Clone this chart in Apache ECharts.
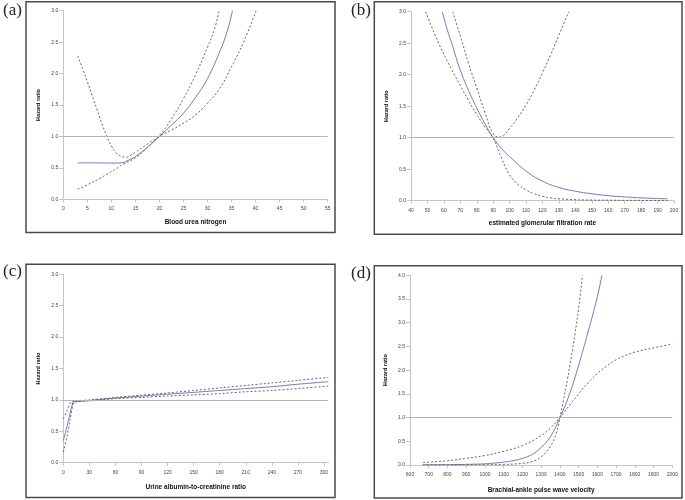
<!DOCTYPE html>
<html><head><meta charset="utf-8">
<script src="https://cdn.jsdelivr.net/npm/echarts@6/dist/echarts.min.js"></script>
<style>html,body{margin:0;padding:0;background:#fff}#c{width:685px;height:500px}</style>
</head><body><div id="c"></div>
<script>
// ---------- (a) Blood urea nitrogen ----------
const bunHrX = [3, 5, 8, 10, 12, 13.5, 15, 17.5, 20, 22.5, 25, 27.5, 30, 32.5, 34, 35.2];
const bunHrY = [0.58, 0.58, 0.578, 0.576, 0.58, 0.62, 0.68, 0.83, 1.0, 1.18, 1.37, 1.62, 1.92, 2.34, 2.65, 3.0];
const bunUpX = [3, 4, 5, 6, 7, 8, 9, 10, 11, 12, 13, 14, 15, 17.5, 20, 22.5, 25, 27.5, 30, 31.5, 32.4];
const bunUpY = [2.28, 2.08, 1.87, 1.65, 1.43, 1.21, 1.01, 0.85, 0.74, 0.685, 0.67, 0.70, 0.75, 0.88, 1.02, 1.28, 1.6, 1.98, 2.42, 2.72, 3.0];
const bunLoX = [3, 5, 7.5, 10, 12.5, 15, 17.5, 20, 22.5, 25, 27.5, 30, 32.5, 35, 37.5, 40.1];
const bunLoY = [0.16, 0.23, 0.33, 0.44, 0.56, 0.66, 0.82, 1.0, 1.10, 1.21, 1.34, 1.53, 1.76, 2.11, 2.5, 3.0];

// ---------- (b) estimated glomerular filtration rate ----------
const egfrHrX = [59, 62, 65, 70, 75, 80, 85, 90, 95, 100, 110, 120, 130, 140, 150, 160, 170, 180, 190, 196];
const egfrHrY = [3.0, 2.72, 2.48, 2.07, 1.75, 1.47, 1.22, 1.0, 0.83, 0.70, 0.47, 0.31, 0.21, 0.15, 0.11, 0.08, 0.06, 0.045, 0.035, 0.03];
const egfrLoX = [49, 53, 57, 61, 65, 70, 75, 80, 85, 90, 95, 100, 105, 110, 115, 120, 125, 130, 140, 150, 160, 170, 180, 196];
const egfrLoY = [3.0, 2.73, 2.49, 2.27, 2.07, 1.83, 1.59, 1.37, 1.17, 0.99, 0.68, 0.41, 0.26, 0.17, 0.11, 0.07, 0.045, 0.03, 0.016, 0.01, 0.008, 0.006, 0.005, 0.004];
const egfrUpX = [65.4, 68, 70, 75, 80, 85, 90, 94, 100, 105, 110, 115, 120, 125, 130, 136];
const egfrUpY = [3.0, 2.78, 2.62, 2.18, 1.79, 1.40, 1.06, 1.01, 1.15, 1.32, 1.52, 1.76, 2.03, 2.32, 2.63, 3.0];

// ---------- (c) Urine albumin-to-creatinine ratio ----------
const uacrHrX = [0, 5, 11, 15, 30, 60, 90, 120, 150, 180, 210, 240, 270, 305];
const uacrHrY = [0.35, 0.62, 0.96, 0.975, 0.99, 1.03, 1.06, 1.09, 1.12, 1.15, 1.18, 1.21, 1.25, 1.29];
const uacrUpX = [0, 4, 9, 15, 30, 60, 90, 120, 150, 180, 210, 240, 270, 305];
const uacrUpY = [0.7, 0.82, 0.97, 0.985, 1.0, 1.04, 1.075, 1.11, 1.15, 1.19, 1.23, 1.27, 1.31, 1.36];
const uacrLoX = [0, 4, 8, 12, 20, 30, 60, 90, 120, 150, 180, 210, 240, 270, 305];
const uacrLoY = [0.17, 0.4, 0.7, 0.96, 0.975, 0.985, 1.02, 1.04, 1.06, 1.08, 1.10, 1.13, 1.15, 1.18, 1.22];

// ---------- (d) Brachial-ankle pulse wave velocity ----------
const pwvHrX = [668, 750, 850, 950, 1000, 1050, 1100, 1150, 1200, 1250, 1300, 1350, 1400, 1450, 1500, 1550, 1600, 1624];
const pwvHrY = [0.005, 0.006, 0.01, 0.018, 0.025, 0.04, 0.06, 0.09, 0.14, 0.22, 0.37, 0.6, 1.0, 1.48, 2.1, 2.8, 3.55, 4.0];
const pwvAX = [670, 700, 800, 900, 1000, 1100, 1200, 1300, 1350, 1400, 1450, 1500, 1550, 1600, 1650, 1700, 1750, 1800, 1900, 2000];
const pwvAY = [0.05, 0.06, 0.09, 0.14, 0.2, 0.29, 0.41, 0.62, 0.78, 1.0, 1.25, 1.5, 1.73, 1.93, 2.09, 2.22, 2.31, 2.38, 2.47, 2.55];
const pwvBX = [668, 800, 900, 1000, 1100, 1150, 1200, 1250, 1300, 1350, 1380, 1400, 1420, 1440, 1460, 1480, 1500, 1520];
const pwvBY = [0.0, 0.0, 0.002, 0.005, 0.012, 0.02, 0.035, 0.07, 0.17, 0.4, 0.66, 1.0, 1.38, 1.8, 2.25, 2.75, 3.3, 4.0];

// axis titles & panel labels
const xTitles = ['Blood urea nitrogen', 'estimated glomerular filtration rate', 'Urine albumin-to-creatinine ratio', 'Brachial-ankle pulse wave velocity'];
const yTitle = 'Hazard ratio';
const panelLabels = ['(a)', '(b)', '(c)', '(d)'];
const uacrTicks = [0, 30, 60, 90, 120, 150, 180, 210, 240, 270, 300];

const chart = echarts.init(document.getElementById('c'), null, {renderer: 'canvas'});
function pairs(xs, ys) { return xs.map((x, i) => [x, ys[i]]); }

const grids = [
  {left: 63.3, top: 10.7, width: 264.4, height: 188.6},
  {left: 411, top: 11.7, width: 263, height: 189},
  {left: 63.3, top: 274.3, width: 265, height: 188.4},
  {left: 410, top: 275.3, width: 262.3, height: 189.7}
];
const AX = '#c4c4c4';
function xAx(i, min, max, interval, nameGap, extra) {
  const a = {
    gridIndex: i, type: 'value', min: min, max: max, interval: interval,
    name: xTitles[i], nameLocation: 'middle', nameGap: nameGap,
    nameTextStyle: {fontFamily: 'Liberation Sans', fontWeight: 'bold', fontSize: 6.5, color: '#111'},
    axisLine: {show: true, onZero: false, lineStyle: {color: AX, width: 1}},
    axisTick: {show: true, length: 3, lineStyle: {color: AX}},
    axisLabel: {fontSize: 5, color: '#444', margin: 7, fontFamily: 'Liberation Sans', formatter: v => String(v)},
    splitLine: {show: false}
  };
  if (extra) { a.axisTick.customValues = extra; a.axisLabel.customValues = extra; }
  return a;
}
function yAx(i, max) {
  return {
    gridIndex: i, type: 'value', min: 0, max: max, interval: 0.5,
    name: yTitle, nameLocation: 'middle', nameGap: 22,
    nameTextStyle: {fontFamily: 'Liberation Sans', fontWeight: 'bold', fontSize: 5.5, color: '#111'},
    axisLine: {show: true, onZero: false, lineStyle: {color: AX, width: 1}},
    axisTick: {show: true, length: 4, lineStyle: {color: AX}},
    axisLabel: {fontSize: 5, color: '#444', margin: 5, fontFamily: 'Liberation Sans', formatter: v => v.toFixed(1)},
    splitLine: {show: false}
  };
}
function fit(i, xs, ys, sm) {
  return {
    type: 'line', xAxisIndex: i, yAxisIndex: i, data: pairs(xs, ys), showSymbol: false, symbol: 'none',
    smooth: sm, lineStyle: {color: '#7479bd', width: 1}, z: 3,
    markLine: {silent: true, symbol: 'none', label: {show: false},
      lineStyle: {color: '#b4b4b4', width: 1, type: 'solid'}, data: [{yAxis: 1}]}
  };
}
function ci(i, xs, ys, sm) {
  return {
    type: 'line', xAxisIndex: i, yAxisIndex: i, data: pairs(xs, ys), showSymbol: false, symbol: 'none',
    smooth: sm, lineStyle: {color: '#555', width: 0.9, type: [2, 2]}, z: 4
  };
}
const frames = [
  [26, 1.7, 309, 230.8],
  [374.3, 1.7, 307.7, 232.5],
  [26, 264.3, 309, 233.2],
  [374.3, 265.7, 307.7, 232.3]
];
const labelPos = [[3, 2], [351, 2], [3, 263.5], [351, 264.8]];
const graphic = [];
frames.forEach(f => graphic.push({type: 'rect', shape: {x: f[0], y: f[1], width: f[2], height: f[3]},
  style: {fill: 'none', stroke: '#4a4a4a', lineWidth: 1.5}, silent: true}));
labelPos.forEach((p, k) => graphic.push({type: 'text', x: p[0], y: p[1],
  style: {text: panelLabels[k], font: '17px "Liberation Serif"', fill: '#222', verticalAlign: 'top', textVerticalAlign: 'top'}, silent: true}));

const S = 0.45;
chart.setOption({
  animation: false,
  backgroundColor: '#fff',
  grid: grids,
  xAxis: [
    xAx(0, 0, 55, 5, 19.5),
    xAx(1, 40, 200, 10, 19),
    xAx(2, 0, 305, 30, 21.5, uacrTicks),
    xAx(3, 600, 2000, 100, 21.5)
  ],
  yAxis: [yAx(0, 3), yAx(1, 3), yAx(2, 3), yAx(3, 4)],
  series: [
    fit(0, bunHrX, bunHrY, S), ci(0, bunUpX, bunUpY, S), ci(0, bunLoX, bunLoY, S),
    fit(1, egfrHrX, egfrHrY, S), ci(1, egfrUpX, egfrUpY, S), ci(1, egfrLoX, egfrLoY, S),
    fit(2, uacrHrX, uacrHrY, 0.15), ci(2, uacrUpX, uacrUpY, 0.15), ci(2, uacrLoX, uacrLoY, 0.15),
    fit(3, pwvHrX, pwvHrY, S), ci(3, pwvAX, pwvAY, S), ci(3, pwvBX, pwvBY, S)
  ],
  graphic: graphic
});
</script></body></html>
